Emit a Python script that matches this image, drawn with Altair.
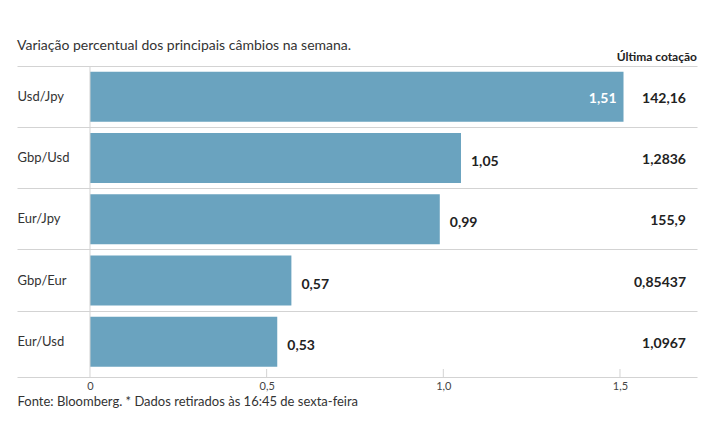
import altair as alt
import pandas as pd

pairs = ["Usd/Jpy", "Gbp/Usd", "Eur/Jpy", "Gbp/Eur", "Eur/Usd"]
changes = [1.51, 1.05, 0.99, 0.57, 0.53]
quotes = ["142,16", "1,2836", "155,9", "0,85437", "1,0967"]
tick_values = [0, 0.5, 1.0, 1.5]
minor_ticks = [0.5, 1.0, 1.5]

FONT = "Lato"
BAR = "#6aa3bf"
LINE = "#d3d3d3"

df = pd.DataFrame({"par": pairs, "v": changes, "q": quotes})
ticks_df = pd.DataFrame({"t": minor_ticks})

W, H = 680, 311
XMIN, XMAX = -0.2066, 1.718

xs = alt.Scale(domain=[XMIN, XMAX], nice=False, zero=False)
ys = alt.Scale(domain=pairs, paddingInner=0, paddingOuter=0.0366, align=0)

base = alt.Chart(df).transform_calculate(
    lab="replace(format(datum.v, '.2f'), '.', ',')"
)

bars = base.mark_bar(size=50, color=BAR).encode(
    x=alt.X("v:Q", scale=xs,
            axis=alt.Axis(values=tick_values, ticks=False, grid=False,
                          domainColor=LINE, labelFontSize=11, labelColor="#444",
                          labelFont=FONT, labelPadding=3,
                          labelExpr="datum.value == 0 ? '0' : replace(format(datum.value, '.1f'), '.', ',')",
                          title="Fonte: Bloomberg.  * Dados retirados às 16:45 de sexta-feira",
                          titleAnchor="start", titleAlign="left", titleFont=FONT,
                          titleFontSize=13, titleFontWeight="normal", titleColor="#333",
                          titlePadding=4)),
    x2=alt.datum(0),
    y=alt.Y("par:N", scale=ys, sort=pairs,
            axis=alt.Axis(title=None, ticks=False, domain=False, grid=True,
                          gridColor=LINE, bandPosition=0, labelAlign="left",
                          labelPadding=0, labelFont=FONT, labelFontSize=13,
                          labelColor="#333")),
)

zero_line = alt.Chart(pd.DataFrame({"z": [0]})).mark_rule(color=LINE).encode(
    x=alt.X("z:Q", scale=xs)
)

tick_marks = alt.Chart(ticks_df).mark_rule(color=LINE).encode(
    x=alt.X("t:Q", scale=xs),
    y=alt.value(H - 8),
    y2=alt.value(H),
)

out_labels = base.transform_filter("datum.v < 1.4").mark_text(
    align="left", dx=10, dy=4, font=FONT, fontSize=14, fontWeight="bold", color="#222"
).encode(x=alt.X("v:Q", scale=xs), y=alt.Y("par:N", scale=ys, sort=pairs), text="lab:N")

in_labels = base.transform_filter("datum.v >= 1.4").mark_text(
    align="right", dx=-7, dy=2, font=FONT, fontSize=14, fontWeight="bold", color="white"
).encode(x=alt.X("v:Q", scale=xs), y=alt.Y("par:N", scale=ys, sort=pairs), text="lab:N")

quote_labels = base.mark_text(
    align="right", dy=2, font=FONT, fontSize=14, fontWeight="bold", color="#222"
).encode(x=alt.value(669), y=alt.Y("par:N", scale=ys, sort=pairs), text="q:N")

header = alt.Chart(pd.DataFrame({"h": ["Última cotação"]})).mark_text(
    align="right", baseline="middle", font=FONT, fontSize=12, fontWeight="bold", color="#222"
).encode(x=alt.value(W), y=alt.value(-9), text="h:N")

chart = alt.layer(bars, zero_line, tick_marks, out_labels, in_labels, quote_labels, header).properties(
    width=W, height=H,
    autosize=alt.AutoSizeParams(type="none"),
    padding={"left": 9, "top": 58, "right": 10, "bottom": 40},
    title=alt.TitleParams("Variação percentual dos principais câmbios na semana.",
                          anchor="start", frame="group", font=FONT, fontSize=14,
                          fontWeight="normal", color="#333", offset=-2),
).configure_view(stroke=None)

chart.save("out.html", embed_options={"renderer": "svg", "actions": False})
